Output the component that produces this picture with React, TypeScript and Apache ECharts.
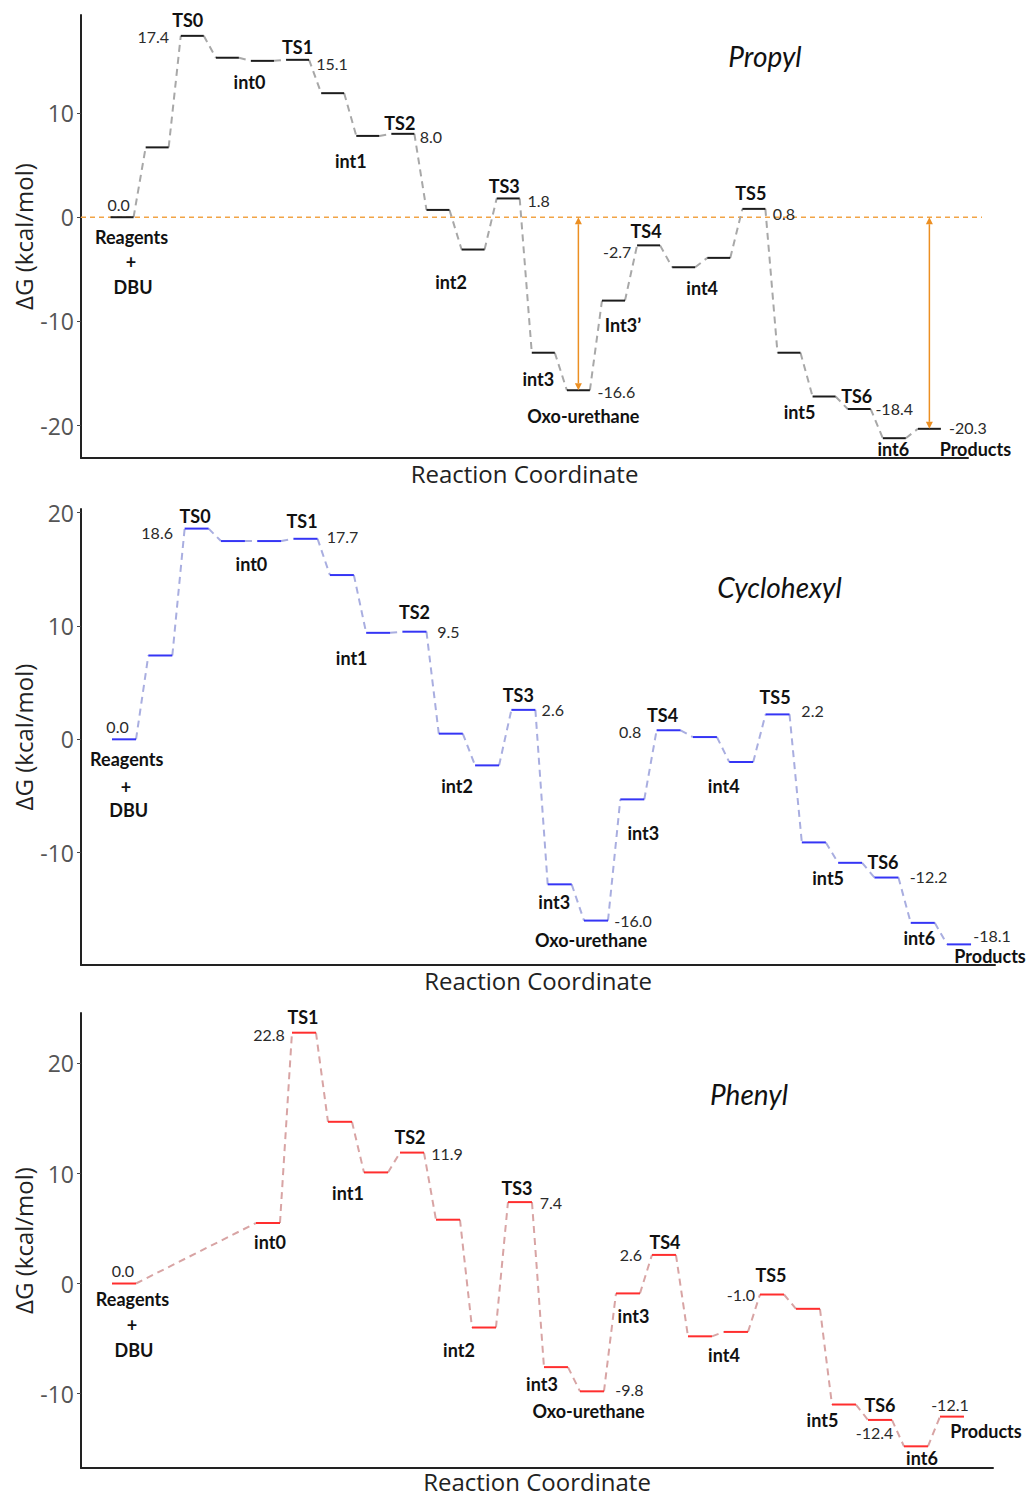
import React, { useEffect, useRef } from "react";
import * as echarts from "echarts";

// ---------------- DATA ----------------
// Propyl pathway: reaction-coordinate step index and free energy (kcal/mol)
const propylSteps = [0, 1, 2, 3, 4, 5, 6, 7, 8, 9, 10, 11, 12, 13, 14, 15, 16, 17, 18, 19, 20, 21, 22, 23];
const propylEnergies = [0.0, 6.7, 17.4, 15.3, 15.0, 15.1, 11.9, 7.8, 8.0, 0.7, -3.1, 1.8, -13.0, -16.6, -8.0, -2.7, -4.8, -3.9, 0.8, -13.0, -17.2, -18.4, -21.2, -20.3];
const propylNameLevels = [2, 4, 5, 7, 8, 10, 11, 12, 13, 14, 15, 16, 18, 20, 21, 22, 23, 0, 0, 0];
const propylNames = ["TS0", "int0", "TS1", "int1", "TS2", "int2", "TS3", "int3", "Oxo-urethane", "Int3\u2019", "TS4", "int4", "TS5", "int5", "TS6", "int6", "Products", "Reagents", "+", "DBU"];
const propylValueLevels = [0, 2, 5, 8, 11, 13, 15, 18, 21, 23];
const propylArrowLevels = [13, 23];
const propylReference = 0;

// Cyclohexyl pathway
const cyclohexylSteps = [0, 1, 2, 3, 4, 5, 6, 7, 8, 9, 10, 11, 12, 13, 14, 15, 16, 17, 18, 19, 20, 21, 22, 23];
const cyclohexylEnergies = [0.0, 7.4, 18.6, 17.5, 17.5, 17.7, 14.5, 9.4, 9.5, 0.5, -2.3, 2.6, -12.8, -16.0, -5.3, 0.8, 0.2, -2.0, 2.2, -9.1, -10.9, -12.2, -16.2, -18.1];
const cyclohexylNameLevels = [2, 3, 5, 7, 8, 10, 11, 12, 13, 14, 15, 17, 18, 20, 21, 22, 23, 0, 0, 0];
const cyclohexylNames = ["TS0", "int0", "TS1", "int1", "TS2", "int2", "TS3", "int3", "Oxo-urethane", "int3", "TS4", "int4", "TS5", "int5", "TS6", "int6", "Products", "Reagents", "+", "DBU"];
const cyclohexylValueLevels = [0, 2, 5, 8, 11, 13, 15, 18, 21, 23];

// Phenyl pathway
const phenylSteps = [0, 4, 5, 6, 7, 8, 9, 10, 11, 12, 13, 14, 15, 16, 17, 18, 19, 20, 21, 22, 23];
const phenylEnergies = [0.0, 5.5, 22.8, 14.7, 10.1, 11.9, 5.8, -4.0, 7.4, -7.6, -9.8, -0.9, 2.6, -4.8, -4.4, -1.0, -2.3, -11.0, -12.4, -14.8, -12.1];
const phenylNameLevels = [2, 1, 4, 5, 7, 8, 9, 10, 11, 12, 14, 15, 17, 18, 19, 20, 0, 0, 0];
const phenylNames = ["TS1", "int0", "int1", "TS2", "int2", "TS3", "int3", "Oxo-urethane", "int3", "TS4", "int4", "TS5", "int5", "TS6", "int6", "Products", "Reagents", "+", "DBU"];
const phenylValueLevels = [0, 2, 5, 8, 10, 12, 15, 18, 20];

const panelTitles = ["Propyl", "Cyclohexyl", "Phenyl"];
const yTickValues = [
  [-20, -10, 0, 10],
  [-10, 0, 10, 20],
  [-10, 0, 10, 20],
];

// ---------------- LAYOUT (pixel offsets of labels from their level's centre) ----------------
const propylNameOffsets = [[-4.5, -16], [-13, 21], [0, -12.5], [-17, 25], [-3, -11], [-22, 32], [-4, -12], [-5, 26], [5, 26], [9.5, 24], [-2.5, -14], [18.5, 20.5], [-3, -16], [-24.5, 15], [-2.5, -13], [-1, 10.5], [46, 20], [9.5, 19.5], [9, 45], [11, 70]];
const propylValueOffsets = [[-3.5, -13], [-39, 0.5], [34.5, 3.5], [28, 2.5], [30.5, 2], [38, 1], [-31.5, 6], [30, 5], [35, -1], [38.5, -1]];
const cyclohexylNameOffsets = [[-1.5, -12.5], [18.5, 23], [-3.5, -18], [-26.5, 25], [0, -20], [-30, 21], [-5, -15], [-5.5, 17.5], [-5, 19], [11, 34], [-6, -15], [-17.5, 24.5], [-2.5, -17], [-22, 15.5], [-3.5, -15.5], [-3.5, 15], [31, 11.5], [2.7, 19.7], [2, 47.7], [4.7, 71]];
const cyclohexylValueOffsets = [[-6.5, -13], [-39.5, 3.5], [37, -2], [34, 0], [29.4, 0], [37, 0], [-38.5, 1], [35, -4], [42, -1], [33, -9]];
const phenylNameOffsets = [[-1, -16], [2, 19], [-28, 21], [-2, -16], [-25, 22.5], [-3, -14], [-14, 16.6], [-3.4, 20], [5.5, 22.5], [1, -13], [-12, 23], [-1, -19.5], [-21.5, 15.5], [0, -15.4], [6, 12], [34, 14], [8.5, 15], [8, 41.5], [10, 66.5]];
const phenylValueOffsets = [[-1, -13.5], [-35, 1.5], [35, 0.5], [31, 0], [37.5, -1.6], [-33, 0], [-31, 0], [-5.5, 13], [-2, -12]];

const grids = [
  { left: 81, top: 15, width: 887, height: 443 },
  { left: 81, top: 509, width: 914, height: 456 },
  { left: 81, top: 1013, width: 912, height: 455 },
];
const xRanges = [[-1.17, 24.1], [-1.185, 23.99], [-1.194, 24.14]];
const yRanges = [[-23.1, 19.4], [-19.92, 20.33], [-16.77, 24.59]];
const xNameGaps = [3, 3, 1];
const titlePos = [[765, 56], [779.5, 587], [749, 1094]];
const HALF = [11.5, 12, 12];

const LEVEL_COLORS = ["#1c1c1c", "#3535f5", "#ff2e2e"];
const DASH_COLORS = ["#a8a8a8", "#a9aee0", "#d8a4a4"];
const ORANGE = "#ec8f22";
const NAME_FONT = "bold 18px Lato";
const VALUE_FONT = "16px Lato";

function levelSeries(p: number, xs: number[], es: number[]) {
  return {
    type: "custom",
    xAxisIndex: p,
    yAxisIndex: p,
    z: 4,
    silent: true,
    data: xs.map((x, i) => [x, es[i]]),
    encode: { x: 0, y: 1 },
    renderItem: (_params: any, api: any) => {
      const c = api.coord([api.value(0), api.value(1)]);
      return {
        type: "line",
        shape: { x1: c[0] - HALF[p], y1: c[1], x2: c[0] + HALF[p], y2: c[1] },
        style: { stroke: LEVEL_COLORS[p], lineWidth: 2 },
      };
    },
  };
}

function connectorSeries(p: number, xs: number[], es: number[]) {
  const data = xs.slice(1).map((x, i) => [xs[i], es[i], x, es[i + 1]]);
  return {
    type: "custom",
    xAxisIndex: p,
    yAxisIndex: p,
    z: 3,
    silent: true,
    data,
    encode: { x: [0, 2], y: [1, 3] },
    renderItem: (_params: any, api: any) => {
      const a = api.coord([api.value(0), api.value(1)]);
      const b = api.coord([api.value(2), api.value(3)]);
      return {
        type: "line",
        shape: { x1: a[0] + HALF[p], y1: a[1], x2: b[0] - HALF[p], y2: b[1] },
        style: { stroke: DASH_COLORS[p], lineWidth: 2, lineDash: [7, 5] },
      };
    },
  };
}

function labelSeries(p: number, xs: number[], es: number[], levels: number[], texts: string[], offsets: number[][], font: string, color: string) {
  return {
    type: "custom",
    xAxisIndex: p,
    yAxisIndex: p,
    z: 6,
    silent: true,
    data: levels.map((l) => [xs[l], es[l]]),
    encode: { x: 0, y: 1 },
    renderItem: (params: any, api: any) => {
      const k = params.dataIndex;
      const c = api.coord([api.value(0), api.value(1)]);
      return {
        type: "text",
        x: c[0] + offsets[k][0],
        y: c[1] + offsets[k][1],
        style: { text: texts[k], fill: color, font, align: "center", verticalAlign: "middle" },
      };
    },
  };
}

function panelSeries(p: number, xs: number[], es: number[], nameLevels: number[], names: string[], nameOffsets: number[][], valueLevels: number[], valueOffsets: number[][]) {
  const valueTexts = valueLevels.map((l) => es[l].toFixed(1));
  return [
    connectorSeries(p, xs, es),
    levelSeries(p, xs, es),
    labelSeries(p, xs, es, nameLevels, names, nameOffsets, NAME_FONT, "#111"),
    labelSeries(p, xs, es, valueLevels, valueTexts, valueOffsets, VALUE_FONT, "#2a2a2a"),
  ];
}

const referenceLineSeries = {
  type: "custom",
  xAxisIndex: 0,
  yAxisIndex: 0,
  z: 2,
  silent: true,
  data: [[0, propylReference]],
  encode: { x: 0, y: 1 },
  renderItem: (params: any, api: any) => {
    const y = api.coord([api.value(0), api.value(1)])[1];
    const cs = params.coordSys;
    return {
      type: "line",
      shape: { x1: cs.x, y1: y, x2: cs.x + cs.width + 14, y2: y },
      style: { stroke: "#f2a446", lineWidth: 1.4, lineDash: [5, 4] },
    };
  },
};

const arrowSeries = {
  type: "custom",
  xAxisIndex: 0,
  yAxisIndex: 0,
  z: 5,
  silent: true,
  data: propylArrowLevels.map((l) => [propylSteps[l], propylReference, propylEnergies[l]]),
  encode: { x: 0, y: [1, 2] },
  renderItem: (_params: any, api: any) => {
    const top = api.coord([api.value(0), api.value(1)]);
    const bot = api.coord([api.value(0), api.value(2)]);
    const cx = top[0];
    const ah = 7;
    const aw = 3.5;
    return {
      type: "group",
      children: [
        { type: "line", shape: { x1: cx, y1: top[1] + ah, x2: cx, y2: bot[1] - ah }, style: { stroke: ORANGE, lineWidth: 1.5 } },
        { type: "polygon", shape: { points: [[cx, top[1]], [cx - aw, top[1] + ah], [cx + aw, top[1] + ah]] }, style: { fill: ORANGE } },
        { type: "polygon", shape: { points: [[cx, bot[1]], [cx - aw, bot[1] - ah], [cx + aw, bot[1] - ah]] }, style: { fill: ORANGE } },
      ],
    };
  },
};

export default function App() {
  const ref = useRef<HTMLDivElement>(null);
  useEffect(() => {
    document.body.style.margin = "0";
    if (!ref.current) return;
    const chart = echarts.init(ref.current, undefined, { renderer: "svg" });
    const option: any = {
      animation: false,
      backgroundColor: "#ffffff",
      grid: grids.map((g) => ({ ...g, containLabel: false, outerBoundsMode: "none" })),
      xAxis: grids.map((_g, i) => ({
        type: "value",
        gridIndex: i,
        min: xRanges[i][0],
        max: xRanges[i][1],
        axisLine: { show: true, onZero: false, lineStyle: { color: "#222", width: 2 } },
        axisTick: { show: false },
        axisLabel: { show: false },
        splitLine: { show: false },
        name: "Reaction Coordinate",
        nameLocation: "middle",
        nameGap: xNameGaps[i],
        nameMoveOverlap: false,
        nameTextStyle: { fontFamily: "Open Sans", fontSize: 24, color: "#222", verticalAlign: "top" },
      })),
      yAxis: grids.map((_g, i) => ({
        type: "value",
        gridIndex: i,
        min: yRanges[i][0],
        max: yRanges[i][1],
        splitNumber: 4,
        axisLine: { show: true, onZero: false, lineStyle: { color: "#222", width: 2 } },
        axisTick: { show: true, length: 4, lineStyle: { color: "#444", width: 1 }, customValues: yTickValues[i] },
        axisLabel: { fontFamily: "Open Sans", fontSize: 23, color: "#555", margin: 7, customValues: yTickValues[i] },
        splitLine: { show: false },
        name: "\u0394G (kcal/mol)",
        nameLocation: "middle",
        nameGap: 46,
        nameRotate: 90,
        nameMoveOverlap: false,
        nameTextStyle: { fontFamily: "Open Sans", fontSize: 24, color: "#222" },
      })),
      graphic: panelTitles.map((t, i) => ({
        type: "text",
        x: titlePos[i][0],
        y: titlePos[i][1],
        silent: true,
        style: { text: t, font: "italic 28px Lato", fill: "#111", align: "center", verticalAlign: "middle" },
      })),
      series: [
        referenceLineSeries,
        ...panelSeries(0, propylSteps, propylEnergies, propylNameLevels, propylNames, propylNameOffsets, propylValueLevels, propylValueOffsets),
        arrowSeries,
        ...panelSeries(1, cyclohexylSteps, cyclohexylEnergies, cyclohexylNameLevels, cyclohexylNames, cyclohexylNameOffsets, cyclohexylValueLevels, cyclohexylValueOffsets),
        ...panelSeries(2, phenylSteps, phenylEnergies, phenylNameLevels, phenylNames, phenylNameOffsets, phenylValueLevels, phenylValueOffsets),
      ],
    };
    chart.setOption(option);
    return () => chart.dispose();
  }, []);
  return <div ref={ref} style={{ position: "absolute", left: 0, top: 0, width: 1027, height: 1497 }} />;
}
